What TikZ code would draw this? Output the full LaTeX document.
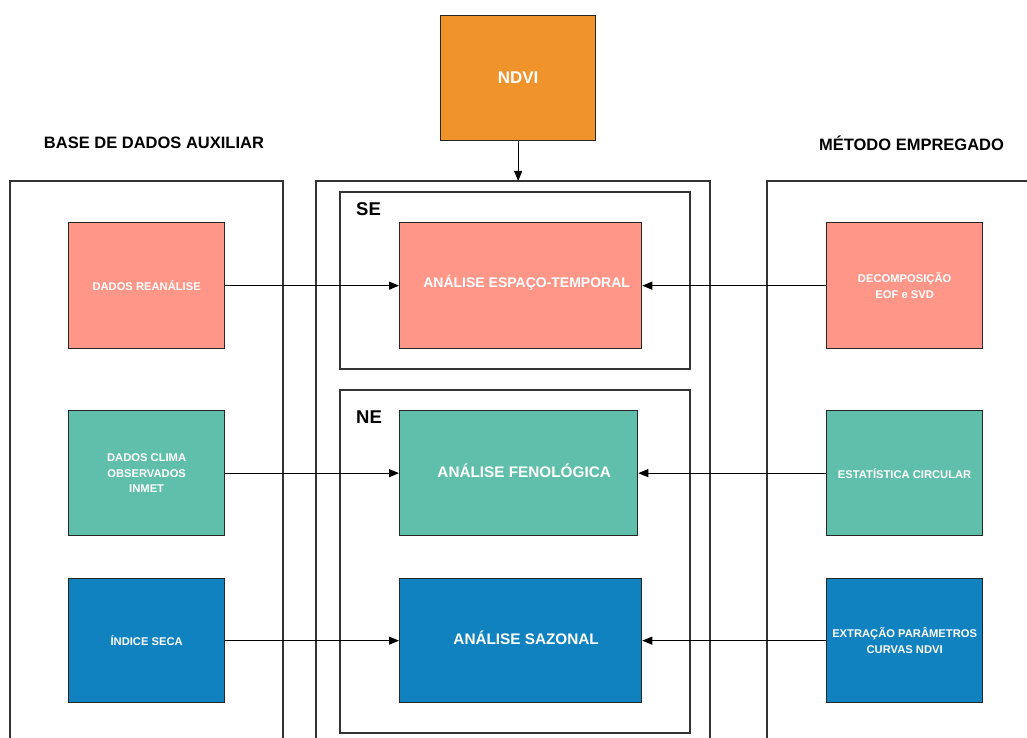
\documentclass[tikz,border=0pt]{standalone}
\usepackage{fontspec}
\setmainfont{Liberation Sans}
\usetikzlibrary{arrows.meta}
\definecolor{ndviorange}{HTML}{F0932A}
\definecolor{csalmon}{HTML}{FF9688}
\definecolor{cteal}{HTML}{60BFAB}
\definecolor{cblue}{HTML}{0F82BF}
\begin{document}
\begin{tikzpicture}[x=1pt,y=-1pt,
  box/.style={draw=black!85, line width=1.3pt, anchor=north west, inner sep=0pt,
    minimum width=156pt, minimum height=126pt, text=white, align=center,
    font=\bfseries\fontsize{11.2}{15.5}\selectfont},
  midbox/.style={box, minimum width=242pt},
  bigtext/.style={text=white, inner sep=0pt, font=\bfseries\fontsize{15.3}{18}\selectfont},
  frame/.style={draw=black!80, line width=1.3pt},
  link/.style={draw=black, line width=1pt, -{Triangle[length=10pt,width=8pt]}},
  heading/.style={font=\bfseries\fontsize{16.5}{20}\selectfont},
  region/.style={font=\bfseries\fontsize{18.5}{22}\selectfont, anchor=west, inner sep=0pt}]

\useasboundingbox (0,0) rectangle (1027,738);
\clip (0,0) rectangle (1027,738);

% column frames, open at the bottom
\draw[frame] (10,745) -- (10,181) -- (283,181) -- (283,745);
\draw[frame] (316,745) -- (316,181) -- (710,181) -- (710,745);
\draw[frame] (767,745) -- (767,181) -- (1035,181);

% regional groups inside the central column
\draw[frame] (340,192) rectangle (690,369);
\draw[frame] (340,390) rectangle (690,733);
\node[region] (se) at (356,209) {SE};
\node[region] (ne) at (356,417) {NE};

% column headings
\node[heading] (hleft) at (154,143) {BASE DE DADOS AUXILIAR};
\node[heading] (hright) at (911.5,143) {MÉTODO EMPREGADO};

% NDVI source
\node[box, fill=ndviorange, minimum width=155pt, minimum height=125pt,
  font=\bfseries\fontsize{17}{20}\selectfont] (ndvi) at (440,15) {NDVI};
\coordinate (level) at (0,181);
\coordinate (ctop) at (ndvi.south |- level);
\draw[link] (ndvi.south) -- (ctop);

% auxiliary data
\node[box, fill=csalmon] (rea) at (68,222) {DADOS REANÁLISE};
\node[box, fill=cteal, minimum height=125pt] (clima) at (68,410) {DADOS CLIMA\\OBSERVADOS\\INMET};
\node[box, fill=cblue, minimum height=124pt] (seca) at (68,578) {ÍNDICE SECA};

% analyses
\node[midbox, fill=csalmon] (aet) at (399,222) {};
\node[midbox, fill=cteal, minimum width=238pt, minimum height=125pt] (afen) at (399,410) {};
\node[midbox, fill=cblue, minimum height=124pt] (asaz) at (399,578) {};
\node[bigtext, font=\bfseries\fontsize{14}{17}\selectfont] (aet-t) at ([xshift=6pt,yshift=2.5pt]aet.center) {ANÁLISE ESPAÇO-TEMPORAL};
\node[bigtext] (afen-t) at ([xshift=5.5pt,yshift=2.5pt]afen.center) {ANÁLISE FENOLÓGICA};
\node[bigtext] (asaz-t) at ([xshift=5.5pt,yshift=2.5pt]asaz.center) {ANÁLISE SAZONAL};

% methods
\node[box, fill=csalmon] (eof) at (826,222) {DECOMPOSIÇÃO\\EOF e SVD};
\node[box, fill=cteal, minimum height=125pt] (circ) at (826,410) {ESTATÍSTICA CIRCULAR};
\node[box, fill=cblue, minimum height=124pt] (curv) at (826,578) {EXTRAÇÃO PARÂMETROS\\CURVAS NDVI};

% connectors
\draw[link] (rea) -- (aet);
\draw[link] (clima) -- (afen);
\draw[link] (seca) -- (asaz);
\draw[link] (eof) -- (aet);
\draw[link] (circ) -- (afen);
\draw[link] (curv) -- (asaz);
\end{tikzpicture}
\end{document}
